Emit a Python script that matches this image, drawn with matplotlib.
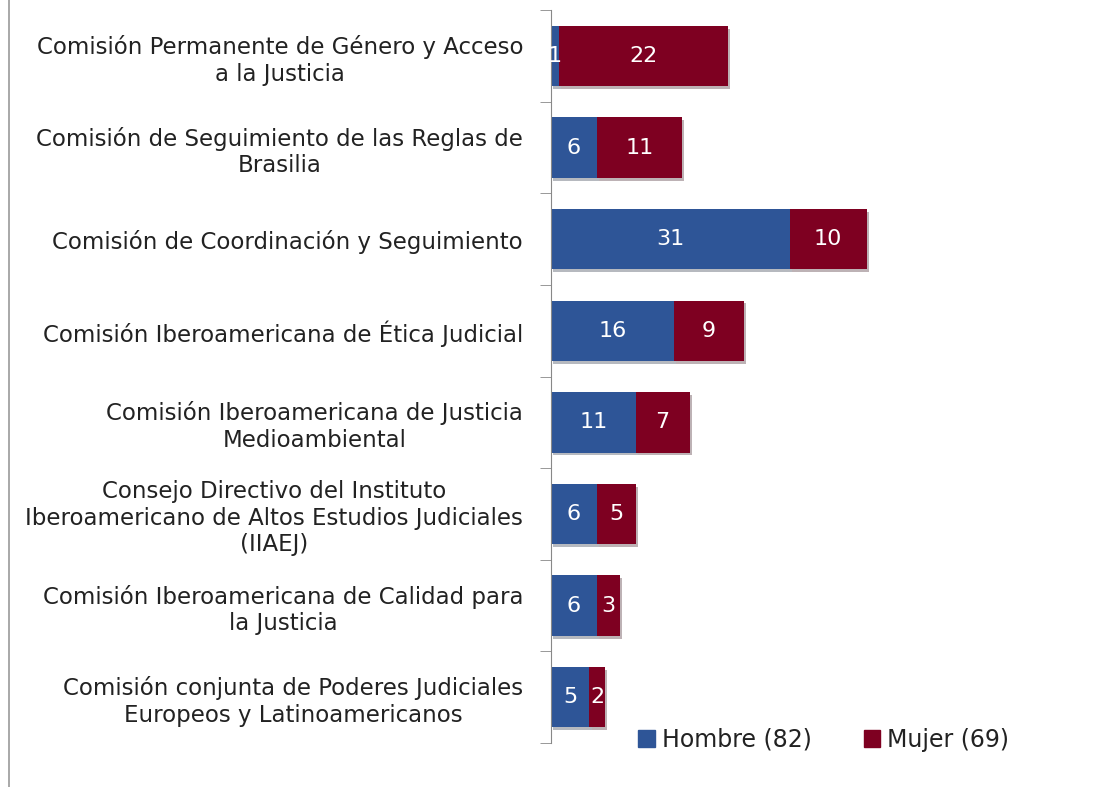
import numpy as np
import matplotlib.pyplot as plt
import matplotlib.patheffects as pe
from matplotlib.patches import Patch

categorias = [
    "Comisión Permanente de Género y Acceso\na la Justicia",
    "Comisión de Seguimiento de las Reglas de\nBrasilia",
    "Comisión de Coordinación y Seguimiento",
    "Comisión Iberoamericana de Ética Judicial",
    "Comisión Iberoamericana de Justicia\nMedioambiental",
    "Consejo Directivo del Instituto\nIberoamericano de Altos Estudios Judiciales\n(IIAEJ)",
    "Comisión Iberoamericana de Calidad para\nla Justicia",
    "Comisión conjunta de Poderes Judiciales\nEuropeos y Latinoamericanos",
]
hombre = [1, 6, 31, 16, 11, 6, 6, 5]
mujer = [22, 11, 10, 9, 7, 5, 3, 2]

azul = '#2E5597'
rojo = '#7E0021'

fig = plt.figure(figsize=(11.04, 7.87), dpi=100)
ax = fig.add_axes([0.499, 0.056, 0.485, 0.931])

y = np.arange(len(categorias))
sombra = [pe.SimplePatchShadow(offset=(1.5, -2), alpha=0.3), pe.Normal()]
b1 = ax.barh(y, hombre, height=0.66, color=azul, path_effects=sombra)
b2 = ax.barh(y, mujer, left=hombre, height=0.66, color=rojo, path_effects=sombra)

for bars in (b1, b2):
    ax.bar_label(bars, label_type='center', color='white', fontsize=16)

ax.set_ylim(len(categorias) - 0.5, -0.5)
ax.set_xlim(0, 69.5)
ax.set_yticks(y)
ax.set_yticklabels(categorias, fontsize=16.5, color='#222222')
for lab in ax.get_yticklabels():
    lab.set_multialignment('center')
ax.set_yticks(np.arange(-0.5, len(categorias)), minor=True)
ax.tick_params(axis='y', which='major', length=0, pad=20)
ax.tick_params(axis='y', which='minor', length=8, color='#888888', direction='out')
ax.set_xticks([])
for s in ['top', 'right', 'bottom']:
    ax.spines[s].set_visible(False)
ax.spines['left'].set_color('#888888')

handles = [Patch(color=azul, label='Hombre (82)'), Patch(color=rojo, label='Mujer (69)')]
fig.legend(handles=handles, loc='center left', bbox_to_anchor=(0.559, 1 - 740 / 787),
           ncol=2, frameon=False, fontsize=17, handlelength=0.7, handleheight=0.7,
           handletextpad=0.3, columnspacing=2.2, labelcolor='#222222')

fig.add_artist(plt.Line2D([0.008, 0.008], [0, 1], color='#999999', lw=1.2))

fig.savefig('out.png', dpi=100)
